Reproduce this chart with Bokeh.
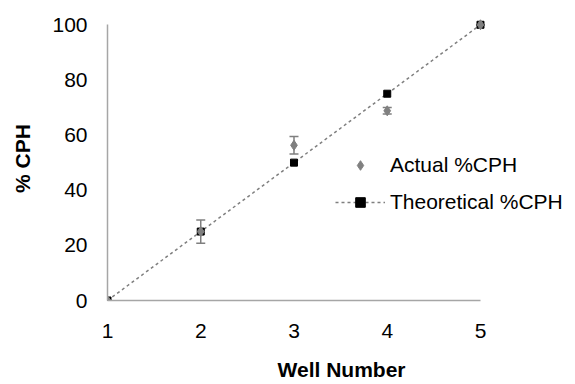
from bokeh.plotting import figure
from bokeh.models import ColumnDataSource, Whisker, TeeHead, Range1d, Legend, LegendItem, FixedTicker
from bokeh.embed import file_html
from bokeh.resources import INLINE

wells = [1, 2, 3, 4, 5]
actual = [0, 25.0, 56.3, 68.8, 100]
actual_err = [0, 4.2, 3.2, 1.2, 0]
theoretical = [0, 25, 50, 75, 100]
x_ticks = [1, 2, 3, 4, 5]
y_ticks = [0, 20, 40, 60, 80, 100]

src = ColumnDataSource(dict(
    x=wells, y=actual,
    upper=[a + e for a, e in zip(actual, actual_err)],
    lower=[a - e for a, e in zip(actual, actual_err)],
))
tsrc = ColumnDataSource(dict(x=wells, y=theoretical))

p = figure(width=575, height=384, output_backend="svg", toolbar_location=None,
           x_range=Range1d(1, 6.019), y_range=Range1d(0, 103),
           min_border_left=107, min_border_right=0, min_border_top=16, min_border_bottom=84)
p.outline_line_color = None
p.xgrid.visible = False
p.ygrid.visible = False

FONT = "Liberation Sans"
for ax in (p.xaxis[0], p.yaxis[0]):
    ax.axis_line_color = "#a6a6a6"
    ax.axis_line_width = 1.5
    ax.major_tick_line_color = None
    ax.minor_tick_line_color = None
    ax.major_tick_out = 0
    ax.major_tick_in = 0
    ax.minor_tick_out = 0
    ax.minor_tick_in = 0
    ax.major_label_text_font = FONT
    ax.major_label_text_font_size = "21px"
    ax.major_label_text_color = "#000000"
    ax.axis_label_text_font = FONT
    ax.axis_label_text_font_size = "21px"
    ax.axis_label_text_font_style = "bold"
    ax.axis_label_text_color = "#000000"

p.xaxis[0].ticker = FixedTicker(ticks=x_ticks)
p.yaxis[0].ticker = FixedTicker(ticks=y_ticks)
p.xaxis[0].bounds = (1, 5)
p.yaxis[0].bounds = (0, 100)
p.xaxis[0].axis_label = "Well Number"
p.yaxis[0].axis_label = "% CPH"
p.xaxis[0].major_label_standoff = 23
p.yaxis[0].major_label_standoff = 20
p.xaxis[0].axis_label_standoff = 17
p.yaxis[0].axis_label_standoff = 15

tl = p.line("x", "y", source=tsrc, line_color="#7f7f7f", line_width=1.5, line_dash="3 3")
ts = p.scatter("x", "y", source=tsrc, marker="square", size=7, fill_color="#000000", line_color="#000000")

wh = Whisker(source=src, base="x", upper="upper", lower="lower",
             line_color="#7f7f7f", line_width=1.5,
             upper_head=TeeHead(size=9, line_color="#7f7f7f", line_width=1.5),
             lower_head=TeeHead(size=9, line_color="#7f7f7f", line_width=1.5))
p.add_layout(wh)
ar = p.scatter("x", "y", source=src, marker="diamond", size=10, fill_color="#808080", line_color="#808080")

legend = Legend(items=[LegendItem(label="Actual %CPH", renderers=[ar]),
                       LegendItem(label="Theoretical %CPH", renderers=[tl, ts])],
                location=(228, 86), border_line_color=None, background_fill_alpha=0,
                padding=0, margin=0, spacing=13, glyph_width=50, glyph_height=24,
                label_height=24, label_standoff=5,
                label_text_font=FONT, label_text_font_size="21px",
                label_text_color="#000000")
p.add_layout(legend, "center")

open("out.html", "w").write(file_html(p, INLINE))
